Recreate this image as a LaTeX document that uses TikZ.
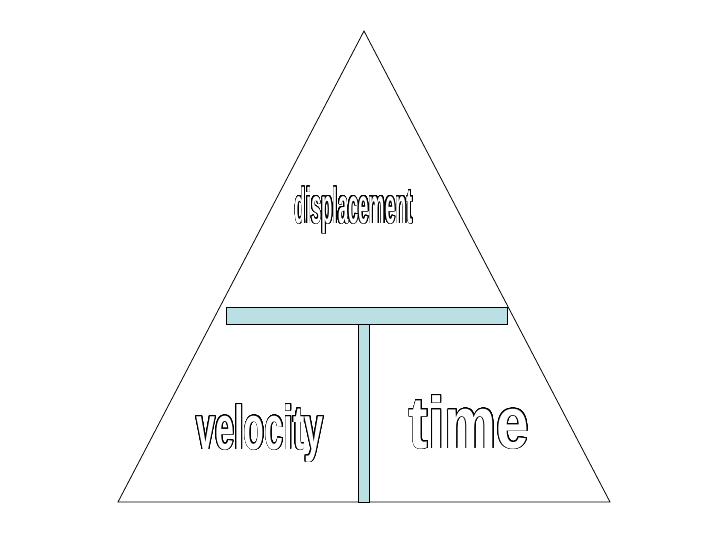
\documentclass[tikz,border=0pt]{standalone}
\usepackage{fontspec}
\usepackage{contour}
\contourlength{0.65pt}
\contournumber{32}
\newfontfamily\dispfont{Liberation Sans}[FakeStretch=0.37]
\newfontfamily\velfont{Liberation Sans}[FakeStretch=0.55]
\newfontfamily\timefont{Liberation Sans}[FakeStretch=0.8]
\definecolor{barblue}{RGB}{187,224,227}
\tikzset{
  tri/.style={draw=black, line width=0.8pt},
  bar/.style={draw=black, fill=barblue, line width=1pt},
  word/.style={inner sep=0pt, anchor=base, text=white},
}
\begin{document}
\begin{tikzpicture}[x=1pt,y=-1pt]
\useasboundingbox (0,0) rectangle (728,546);
\coordinate (apex) at (364,31);
\coordinate (bl) at (118,502);
\coordinate (br) at (610,502);
\draw[tri] (apex) -- (bl) -- (br) -- cycle;
\draw[bar] (358,324) rectangle (369,502);
\draw[bar] (226,307) rectangle (507,324);
\node[word] (disp) at (354,223) {\dispfont\bfseries\fontsize{50}{50}\selectfont\contour{black}{displacement}};
\node[word] (vel) at (260,449) {\velfont\bfseries\fontsize{62}{62}\selectfont\contour{black}{velocity}};
\node[word] (time) at (469,448) {\timefont\bfseries\fontsize{73}{73}\selectfont\contour{black}{time}};
\end{tikzpicture}
\end{document}
